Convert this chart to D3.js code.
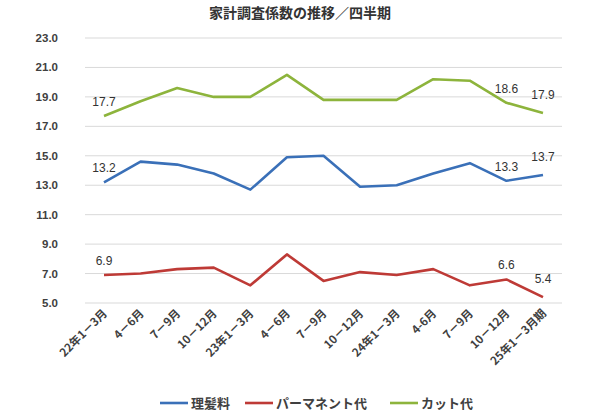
<!DOCTYPE html>
<html><head><meta charset="utf-8">
<script src="https://cdn.jsdelivr.net/npm/d3@7"></script>
<style>body{margin:0;background:#fff;font-family:"Liberation Sans","Noto Sans CJK JP",sans-serif}</style>
</head><body><svg id="c" width="600" height="414"></svg>
<script>
// data
const categories = ['22年1－3月','4－6月','7－9月','10－12月','23年1－3月','4－6月','7－9月','10－12月','24年1－3月','4-6月','7－9月','10－12月','25年1－3月期'];
const rihatsu = [13.2,14.6,14.4,13.8,12.7,14.9,15.0,12.9,13.0,13.8,14.5,13.3,13.7];
const perm = [6.9,7.0,7.3,7.4,6.2,8.3,6.5,7.1,6.9,7.3,6.2,6.6,5.4];
const cut = [17.7,18.7,19.6,19.0,19.0,20.5,18.8,18.8,18.8,20.2,20.1,18.6,17.9];
const yTicks = [5,7,9,11,13,15,17,19,21,23];
const series = [
  {name:'理髪料', values:rihatsu, color:'#3a70b8', labels:[0,11,12]},
  {name:'パーマネント代', values:perm, color:'#be3a36', labels:[0,11,12]},
  {name:'カット代', values:cut, color:'#8db43c', labels:[0,11,12]}
];

const svg = d3.select('#c');
const x = d3.scalePoint().domain(d3.range(categories.length)).range([104,543]);
const y = d3.scaleLinear().domain([5,23]).range([303,38]);

svg.append('text').attr('x',300).attr('y',18).attr('text-anchor','middle')
  .attr('font-size',14).attr('font-weight','bold').attr('font-family','"Noto Sans CJK JP"').attr('fill','#333')
  .text('家計調査係数の推移／四半期');

// grid
svg.append('g').selectAll('line').data(yTicks).enter().append('line')
  .attr('x1',85).attr('x2',562).attr('y1',d=>y(d)).attr('y2',d=>y(d))
  .attr('stroke','#d9d9d9').attr('stroke-width',1);
svg.append('g').selectAll('text').data(yTicks).enter().append('text')
  .attr('x',58).attr('y',d=>y(d)+4).attr('text-anchor','end').attr('font-size',11.5)
  .attr('font-weight','bold').attr('fill','#404040')
  .text(d=>d.toFixed(1));

// x labels
svg.append('g').selectAll('text').data(categories).enter().append('text')
  .attr('transform',(d,i)=>`translate(${x(i)+4},${314}) rotate(-45)`)
  .attr('text-anchor','end').attr('font-size',11.5).attr('font-weight','bold').attr('fill','#404040')
  .attr('font-family','"Noto Sans CJK JP"')
  .text(d=>d);

const line = d3.line().x((d,i)=>x(i)).y(d=>y(d));
series.forEach(s=>{
  svg.append('path').datum(s.values).attr('d',line).attr('fill','none')
    .attr('stroke',s.color).attr('stroke-width',2.6).attr('stroke-linejoin','round');
  svg.append('g').selectAll('text').data(s.labels).enter().append('text')
    .attr('x',i=>x(i)).attr('y',i=>y(s.values[i])-(i===12?14:10)).attr('text-anchor','middle')
    .attr('font-size',12).attr('fill','#333').text(i=>s.values[i].toFixed(1));
});

// legend
const leg = [{x:160},{x:245},{x:390}];
series.forEach((s,i)=>{
  const g = svg.append('g').attr('transform',`translate(${leg[i].x},403)`);
  g.append('line').attr('x1',0).attr('x2',28).attr('stroke',s.color).attr('stroke-width',2.6);
  g.append('text').attr('x',31).attr('y',5).attr('font-size',13).attr('font-weight','bold').attr('font-family','"Noto Sans CJK JP"')
    .attr('fill','#404040').text(s.name);
});
</script></body></html>
